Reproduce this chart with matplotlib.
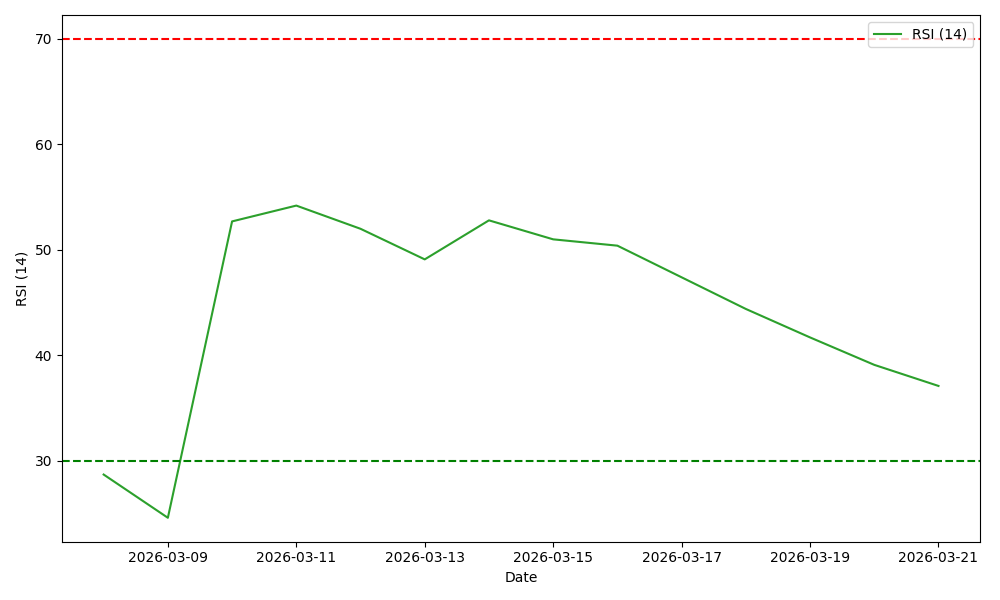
import pandas as pd
import matplotlib
matplotlib.use("Agg")
import matplotlib.pyplot as plt

# RSI values
dates = pd.date_range("2026-03-08", "2026-03-21", freq="D")
rsi_values = [28.7, 24.6, 52.7, 54.2, 52.0, 49.1, 52.8, 51.0, 50.4,
              47.4, 44.4, 41.7, 39.1, 37.1]
overbought = 70
oversold = 30

fig, ax = plt.subplots(figsize=(10, 6), dpi=100)
ax.plot(dates, rsi_values, color="tab:green", label="RSI (14)")
ax.axhline(overbought, color="red", linestyle="--")
ax.axhline(oversold, color="green", linestyle="--")

ax.set_xlabel("Date")
ax.set_ylabel("RSI (14)")
ax.legend(loc="upper right")

plt.tight_layout()
plt.savefig("out.png")
